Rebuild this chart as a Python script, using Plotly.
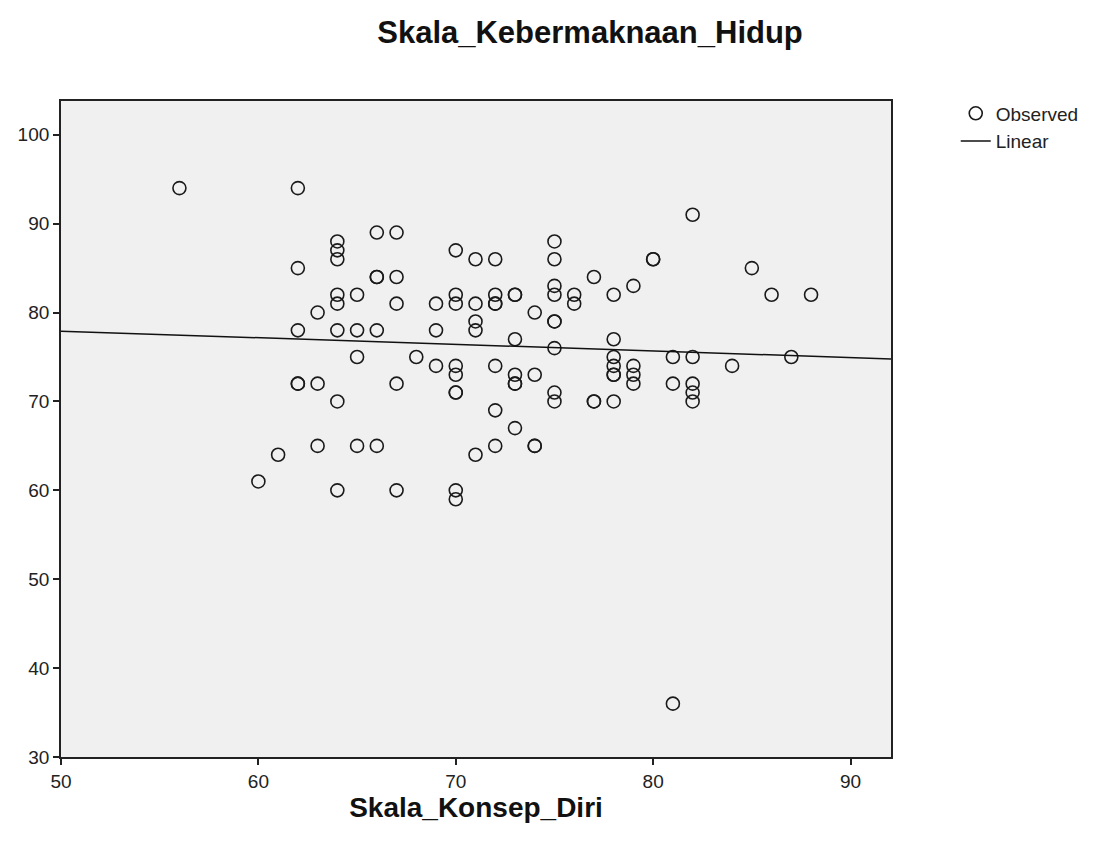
import numpy as np
import plotly.graph_objects as go

konsep_diri = [56, 62, 62, 62, 62, 62, 60, 61,
               63, 63, 63,
               64, 64, 64, 64, 64, 64, 64, 64,
               65, 65, 65, 65,
               66, 66, 66, 66, 66,
               67, 67, 67, 67, 67,
               68, 69, 69, 69,
               70, 70, 70, 70, 70, 70, 70, 70, 70,
               71, 71, 71, 71, 71,
               72, 72, 72, 72, 72, 72, 72,
               73, 73, 73, 73, 73, 73, 73,
               74, 74, 74, 74,
               75, 75, 75, 75, 75, 75, 75, 75, 75,
               76, 76, 77, 77, 77,
               78, 78, 78, 78, 78, 78, 78,
               79, 79, 79, 79,
               80, 80, 81, 81, 81,
               82, 82, 82, 82, 82,
               84, 85, 86, 87, 88]
kebermaknaan_hidup = [94, 94, 85, 78, 72, 72, 61, 64,
                      80, 72, 65,
                      88, 87, 86, 82, 81, 78, 70, 60,
                      82, 78, 75, 65,
                      89, 84, 84, 78, 65,
                      89, 84, 81, 72, 60,
                      75, 81, 78, 74,
                      87, 82, 81, 74, 73, 71, 71, 60, 59,
                      86, 81, 79, 78, 64,
                      86, 82, 81, 81, 74, 69, 65,
                      82, 82, 77, 73, 72, 72, 67,
                      80, 73, 65, 65,
                      88, 86, 83, 82, 79, 79, 76, 71, 70,
                      82, 81, 84, 70, 70,
                      82, 77, 75, 74, 73, 73, 70,
                      83, 74, 73, 72,
                      86, 86, 75, 72, 36,
                      91, 75, 72, 71, 70,
                      74, 85, 82, 75, 82]

x_ticks = [50, 60, 70, 80, 90]
y_ticks = [30, 40, 50, 60, 70, 80, 90, 100]

x = np.array(konsep_diri, dtype=float)
y = np.array(kebermaknaan_hidup, dtype=float)
slope, intercept = np.polyfit(x, y, 1)
x_range = [50, 92.05]
line_x = np.array(x_range)
line_y = intercept + slope * line_x

FONT = "Liberation Sans, Arial"

fig = go.Figure()
fig.add_trace(go.Scatter(
    x=x, y=y, mode="markers", name="Observed",
    marker=dict(symbol="circle-open", size=13, color="#1a1a1a",
                line=dict(width=1.6, color="#1a1a1a")),
))
fig.add_trace(go.Scatter(
    x=line_x, y=line_y, mode="lines", name="Linear",
    line=dict(color="#111111", width=1.5),
))

axis_common = dict(
    showgrid=False, zeroline=False, showline=True, linecolor="#222222",
    linewidth=1.8, mirror=True, ticks="outside", ticklen=6, tickwidth=1.6,
    tickcolor="#222222", automargin=False,
    tickfont=dict(family=FONT, size=19, color="#222222"),
)

fig.update_layout(
    width=1099, height=848,
    paper_bgcolor="white", plot_bgcolor="#f0f0f0",
    margin=dict(l=53, r=216, t=93, b=99, autoexpand=False),
    title=dict(text="<b>Skala_Kebermaknaan_Hidup</b>", x=0.5296, xanchor="center",
               y=0.9717, yanchor="middle",
               font=dict(family=FONT, size=31, color="#111111")),
    xaxis=dict(range=x_range, tickvals=x_ticks,
               title=dict(text="<b>Skala_Konsep_Diri</b>", standoff=6,
                          font=dict(family=FONT, size=28, color="#111111")),
               **axis_common),
    yaxis=dict(range=[30, 103.8], tickvals=y_ticks, **axis_common),
    legend=dict(x=1.078, xanchor="left", y=1.01, yanchor="top",
                font=dict(family=FONT, size=19, color="#222222"),
                bgcolor="rgba(0,0,0,0)", tracegroupgap=0, itemwidth=30),
    showlegend=True,
)

fig.write_html("out.html")
